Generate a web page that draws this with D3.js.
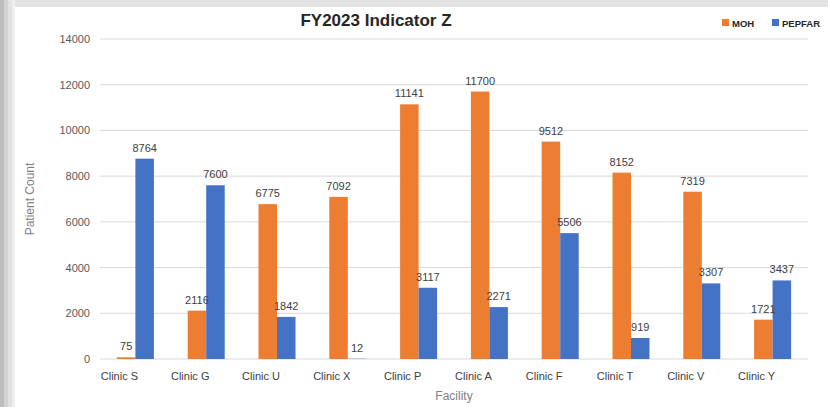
<!DOCTYPE html>
<html>
<head>
<meta charset="utf-8">
<script src="https://cdn.jsdelivr.net/npm/d3@7"></script>
<style>
  body { margin: 0; background: #fff; }
  svg text { font-family: "Liberation Sans", Calibri, "DejaVu Sans", sans-serif; }
</style>
</head>
<body>
<div id="chart"></div>
<script>
var clinics = ["Clinic S", "Clinic G", "Clinic U", "Clinic X", "Clinic P", "Clinic A", "Clinic F", "Clinic T", "Clinic V", "Clinic Y"];
var mohValues = [75, 2116, 6775, 7092, 11141, 11700, 9512, 8152, 7319, 1721];
var pepfarValues = [8764, 7600, 1842, 12, 3117, 2271, 5506, 919, 3307, 3437];
var seriesNames = ["MOH", "PEPFAR"];
var yTicks = [0, 2000, 4000, 6000, 8000, 10000, 12000, 14000];

var colors = { MOH: "#ED7D31", PEPFAR: "#4472C4" };

var W = 828, H = 407;
var margin = { top: 39, right: 20, bottom: 48, left: 100 };
var width = W - margin.left - margin.right;
var height = H - margin.top - margin.bottom;

var svg = d3.select("#chart").append("svg")
  .attr("width", W).attr("height", H);

// screenshot edges (spreadsheet chrome)
svg.append("rect").attr("x", 0).attr("y", 0).attr("width", W).attr("height", 7).attr("fill", "#e3e3e3");
var strip = [["#bdbdbd", 0, 4], ["#d2d2d2", 4, 4], ["#e2e2e2", 8, 4], ["#eeeeee", 12, 3]];
strip.forEach(function(s) {
  svg.append("rect").attr("x", s[1]).attr("y", 0).attr("width", s[2]).attr("height", H).attr("fill", s[0]);
});

var data = clinics.map(function(c, i) {
  return { clinic: c, MOH: mohValues[i], PEPFAR: pepfarValues[i] };
});

var x0 = d3.scaleBand().domain(clinics).range([0, width]).paddingInner(0).paddingOuter(0);
var barW = 18.5;
var x1 = d3.scaleBand().domain(seriesNames).range([x0.bandwidth() / 2 - barW, x0.bandwidth() / 2 + barW]);
var y = d3.scaleLinear().domain([0, 14000]).range([height, 0]);

var g = svg.append("g").attr("transform", "translate(" + margin.left + "," + margin.top + ")");

// gridlines
g.selectAll(".grid").data(yTicks).enter().append("line")
  .attr("x1", 0).attr("x2", width)
  .attr("y1", function(d) { return y(d); }).attr("y2", function(d) { return y(d); })
  .attr("stroke", "#d9d9d9").attr("stroke-width", 1);

// y axis labels
var yAxis = d3.axisLeft(y).tickValues(yTicks).tickFormat(d3.format("d")).tickSize(0).tickPadding(10);
g.append("g").call(yAxis)
  .call(function(a) { a.select(".domain").remove(); })
  .selectAll("text").attr("fill", "#595959").style("font-size", "11px");

// bars
var groups = g.selectAll(".grp").data(data).enter().append("g")
  .attr("transform", function(d) { return "translate(" + x0(d.clinic) + ",0)"; });

groups.selectAll("rect").data(function(d) {
  return seriesNames.map(function(k) { return { key: k, value: d[k] }; });
}).enter().append("rect")
  .attr("x", function(d) { return x1(d.key); })
  .attr("width", x1.bandwidth())
  .attr("y", function(d) { return y(d.value); })
  .attr("height", function(d) { return height - y(d.value); })
  .attr("fill", function(d) { return colors[d.key]; });

groups.selectAll(".lbl").data(function(d) {
  return seriesNames.map(function(k) { return { key: k, value: d[k] }; });
}).enter().append("text")
  .attr("x", function(d) { return x1(d.key) + x1.bandwidth() / 2; })
  .attr("y", function(d) { return y(d.value) - 7; })
  .attr("text-anchor", "middle")
  .attr("fill", "#404040")
  .style("font-size", "11px")
  .text(function(d) { return d.value; });

// x axis labels
var xAxis = d3.axisBottom(x0).tickSize(0).tickPadding(13);
var xa = g.append("g").attr("transform", "translate(-16," + height + ")").call(xAxis);
xa.select(".domain").remove();
xa.selectAll("text").attr("fill", "#404040").style("font-size", "11px");

// axis titles
svg.append("text")
  .attr("x", margin.left + width / 2).attr("y", 400)
  .attr("text-anchor", "middle").attr("fill", "#7f7f7f").style("font-size", "12px")
  .text("Facility");
svg.append("text")
  .attr("transform", "translate(34," + (margin.top + height / 2) + ") rotate(-90)")
  .attr("text-anchor", "middle").attr("fill", "#7f7f7f").style("font-size", "12px")
  .text("Patient Count");

// title
svg.append("text")
  .attr("x", 376).attr("y", 26)
  .attr("text-anchor", "middle").attr("fill", "#262626")
  .style("font-size", "17px").style("font-weight", "bold")
  .text("FY2023 Indicator Z");

// legend
var legendX = [722, 772];
var lg = svg.selectAll(".leg").data(seriesNames).enter().append("g")
  .attr("transform", function(d, i) { return "translate(" + legendX[i] + ",18)"; });
lg.append("rect").attr("width", 7).attr("height", 7).attr("y", 1)
  .attr("fill", function(d) { return colors[d]; });
lg.append("text").attr("x", 10).attr("y", 8.5)
  .attr("fill", "#262626").style("font-size", "9.5px").style("font-weight", "bold")
  .text(function(d) { return d; });
</script>
</body>
</html>
